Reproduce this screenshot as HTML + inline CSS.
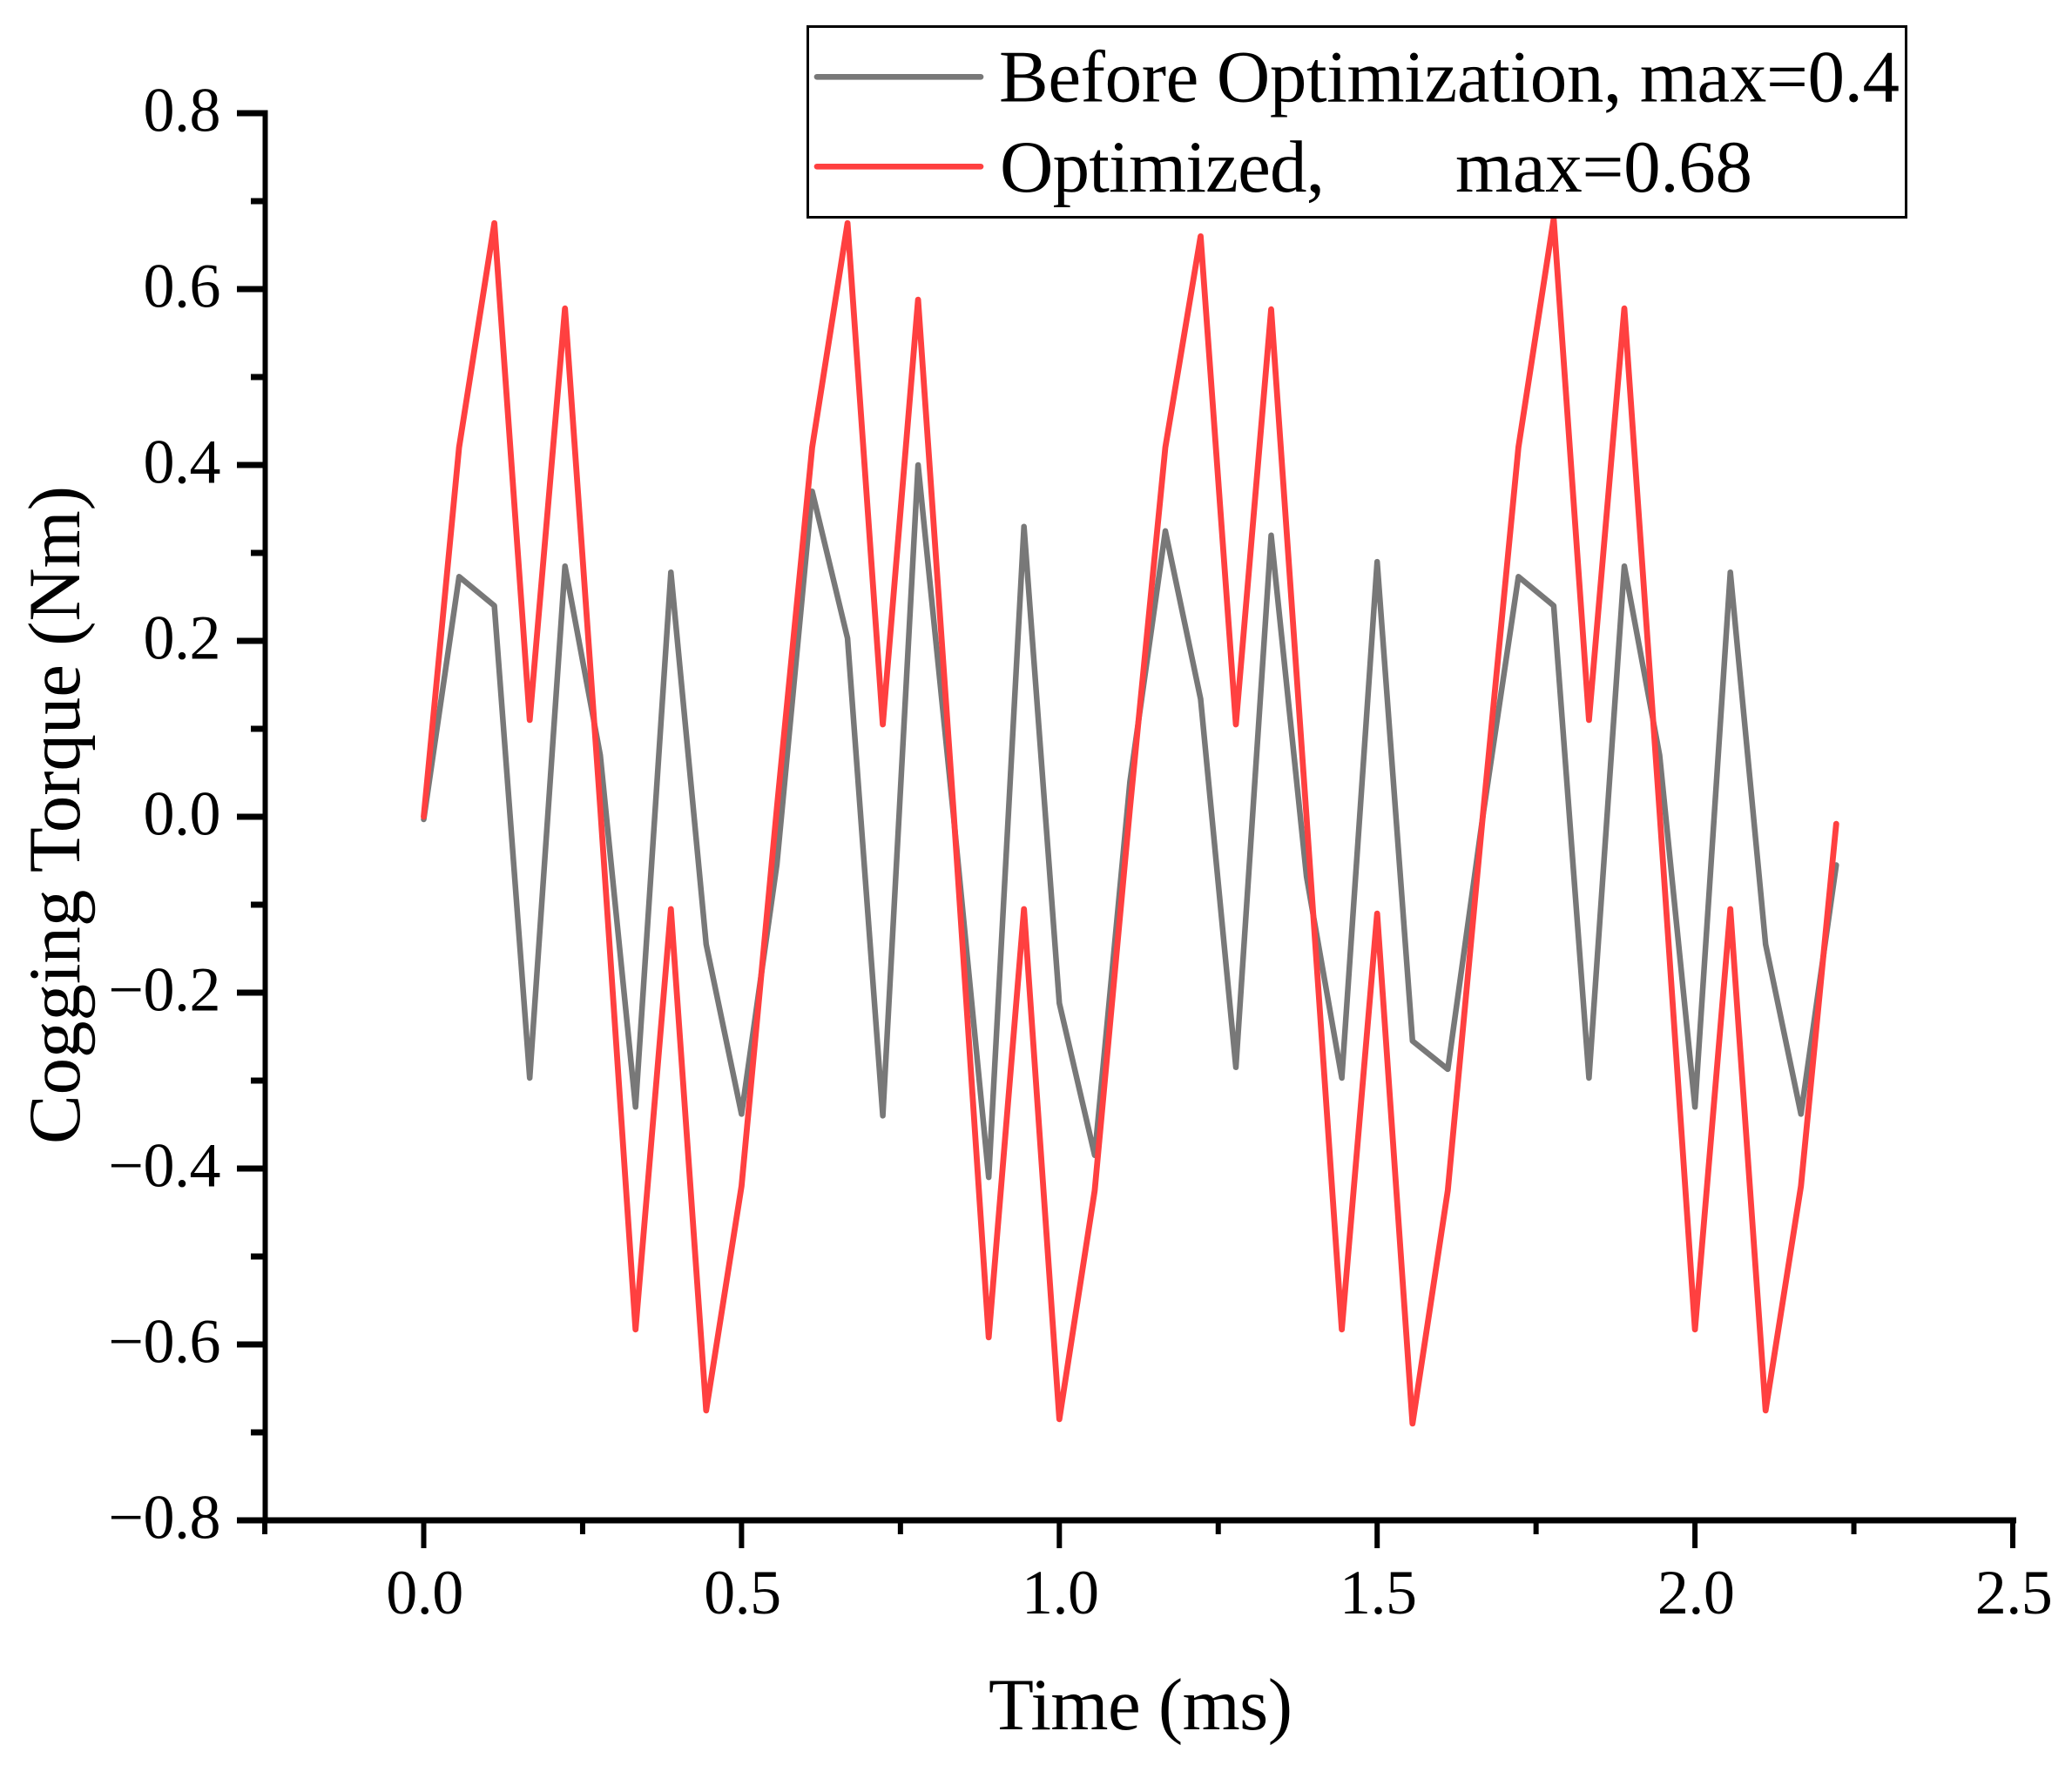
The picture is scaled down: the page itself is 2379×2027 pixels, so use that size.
<!DOCTYPE html>
<html lang="en">
<head>
<meta charset="utf-8">
<title>Cogging Torque vs Time</title>
<style>
html,body{margin:0;padding:0;background:#fff;}
svg{display:block;}
text{font-family:"Liberation Serif",serif;fill:#000;}
</style>
</head>
<body>
<svg id="chart" xmlns="http://www.w3.org/2000/svg" width="2379" height="2027" viewBox="0 0 2379 2027">
<rect x="0" y="0" width="2379" height="2027" fill="#fff"/>
<g id="ticks"></g>
<g id="series"></g>
<line x1="304.5" y1="126.5" x2="304.5" y2="1749" stroke="#000" stroke-width="6"/>
<line x1="272" y1="1746" x2="2315" y2="1746" stroke="#000" stroke-width="7"/>
<text transform="translate(91,1314) rotate(-90)" font-size="85" textLength="756" lengthAdjust="spacing">Cogging Torque (Nm)</text>
<text x="1135" y="1986" font-size="85" textLength="349" lengthAdjust="spacing">Time (ms)</text>
<g>
<rect x="927.5" y="30.5" width="1261" height="219" fill="#fff" stroke="#000" stroke-width="3"/>
<line x1="938" y1="88.3" x2="1126" y2="88.3" stroke="#787878" stroke-width="6.7" stroke-linecap="round"/>
<text x="1147" y="116.7" font-size="85" textLength="1034" lengthAdjust="spacing">Before Optimization, max=0.4</text>
<line x1="938" y1="191.3" x2="1126" y2="191.3" stroke="#ff4040" stroke-width="6.7" stroke-linecap="round"/>
<text x="1148" y="220" font-size="85" textLength="373" lengthAdjust="spacing">Optimized,</text>
<text x="1671" y="220" font-size="85" textLength="341" lengthAdjust="spacing">max=0.68</text>
</g>
</svg>
<script>
const times = [0,0.0556,0.1111,0.1667,0.2222,0.2778,0.3333,0.3889,0.4444,0.5,0.5556,0.6111,0.6667,0.7222,0.7778,0.8333,0.8889,0.9444,1,1.0556,1.1111,1.1667,1.2222,1.2778,1.3333,1.3889,1.4444,1.5,1.5556,1.6111,1.6667,1.7222,1.7778,1.8333,1.8889,1.9444,2,2.0556,2.1111,2.1667,2.2222];
const beforeValues = [-0.003,0.273,0.24,-0.297,0.285,0.07,-0.33,0.278,-0.145,-0.338,-0.054,0.37,0.203,-0.34,0.4,0.003,-0.41,0.33,-0.212,-0.385,0.04,0.325,0.134,-0.285,0.32,-0.068,-0.297,0.29,-0.255,-0.287,0.003,0.273,0.24,-0.297,0.285,0.07,-0.33,0.278,-0.145,-0.338,-0.055];
const optimizedValues = [0,0.42,0.675,0.11,0.578,0.01,-0.583,-0.105,-0.675,-0.42,0.01,0.42,0.675,0.105,0.588,0.01,-0.592,-0.105,-0.685,-0.425,0.01,0.42,0.66,0.105,0.577,0,-0.583,-0.11,-0.69,-0.425,0.005,0.42,0.68,0.11,0.578,0.005,-0.583,-0.105,-0.675,-0.42,-0.008];
const xMajorTicks = [0,0.5,1,1.5,2,2.5];
const xMajorLabels = ["0.0","0.5","1.0","1.5","2.0","2.5"];
const xMinorTicks = [-0.25,0.25,0.75,1.25,1.75,2.25];
const yMajorTicks = [0.8,0.6,0.4,0.2,0,-0.2,-0.4,-0.6,-0.8];
const yMajorLabels = ["0.8","0.6","0.4","0.2","0.0","\u22120.2","\u22120.4","\u22120.6","\u22120.8"];
const yMinorTicks = [0.7,0.5,0.3,0.1,-0.1,-0.3,-0.5,-0.7];

const NS = 'http://www.w3.org/2000/svg';
function xScale(t){ return 486.5 + 729.8 * t; }
function yScale(v){ return 938 - 1010 * v; }
const tickGroup = document.getElementById('ticks');
const seriesGroup = document.getElementById('series');

function makeTick(x1,y1,x2,y2,w){
  const l = document.createElementNS(NS,'line');
  l.setAttribute('x1',x1); l.setAttribute('y1',y1);
  l.setAttribute('x2',x2); l.setAttribute('y2',y2);
  l.setAttribute('stroke','#000'); l.setAttribute('stroke-width',w);
  tickGroup.appendChild(l);
  return l;
}
function makeLabel(x,y,anchor,str){
  const t = document.createElementNS(NS,'text');
  t.setAttribute('x',x); t.setAttribute('y',y);
  t.setAttribute('text-anchor',anchor);
  t.setAttribute('font-size','72');
  t.setAttribute('letter-spacing','-0.5');
  t.textContent = str;
  tickGroup.appendChild(t);
  return t;
}
xMajorTicks.forEach(function(v,i){
  const tick = makeTick(xScale(v),1746,xScale(v),1778,6);
  
  
  const label = makeLabel(xScale(v)+1,1853,'middle',xMajorLabels[i]);
  
  
});
xMinorTicks.forEach(function(v){
  const tick = makeTick(xScale(v),1746,xScale(v),1762,6);
  
  
});
yMajorTicks.forEach(function(v,i){
  const tick = makeTick(272,yScale(v),305,yScale(v),7);
  
  
  const label = makeLabel(253,yScale(v)+20.5,'end',yMajorLabels[i]);
  
  
});
yMinorTicks.forEach(function(v){
  const tick = makeTick(288,yScale(v),305,yScale(v),7);
  
  
});
function makeSeries(values,color,width){
  const p = document.createElementNS(NS,'polyline');
  p.setAttribute('points',values.map(function(v,i){return xScale(times[i]).toFixed(1)+','+yScale(v).toFixed(1);}).join(' '));
  p.setAttribute('fill','none');
  p.setAttribute('stroke',color);
  p.setAttribute('stroke-width',width);
  p.setAttribute('stroke-linejoin','round');
  p.setAttribute('stroke-linecap','round');
  seriesGroup.appendChild(p);
  return p;
}
const beforeLine = makeSeries(beforeValues,'#787878','6.5');


const optimizedLine = makeSeries(optimizedValues,'#ff4040','6.8');


</script>
</body>
</html>
